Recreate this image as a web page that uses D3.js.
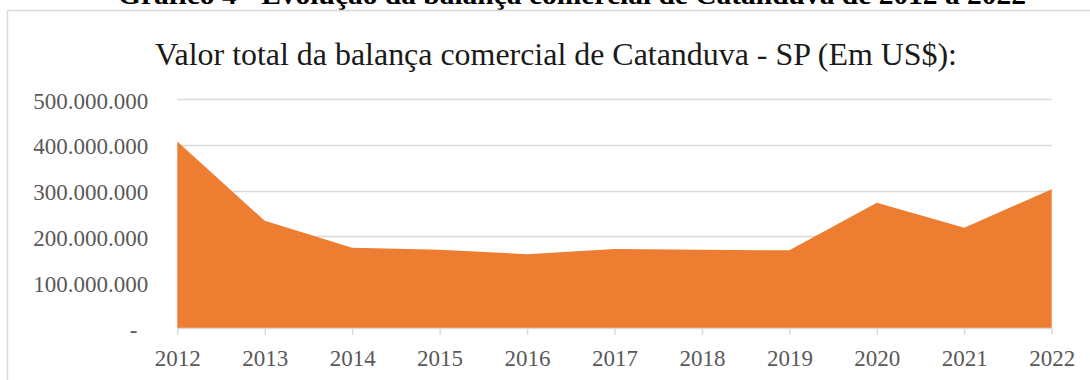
<!DOCTYPE html>
<html>
<head>
<meta charset="utf-8">
<script src="https://cdn.jsdelivr.net/npm/d3@7"></script>
<style>
  html, body { margin: 0; padding: 0; background: #fff; }
  svg { display: block; }
</style>
</head>
<body>
<svg id="chart" width="1090" height="380"></svg>
<script>
// Balança comercial de Catanduva - SP, valor total em US$
const years = ["2012", "2013", "2014", "2015", "2016", "2017", "2018", "2019", "2020", "2021", "2022"];
const totals = [407e6, 234e6, 175e6, 171e6, 161e6, 172.5e6, 171e6, 169.5e6, 273.5e6, 219e6, 303e6];
const yTicks = [0, 100e6, 200e6, 300e6, 400e6, 500e6];

const pageTitle = "Gráfico 4 - Evolução da balança comercial de Catanduva de 2012 a 2022";
const chartTitle = "Valor total da balança comercial de Catanduva - SP (Em US$):";

const serif = "\"Liberation Serif\", \"Times New Roman\", Times, serif";
const svg = d3.select("#chart");

const plot = { left: 177.3, right: 1051.7, top: 99, bottom: 328 };

const x = d3.scalePoint().domain(years).range([plot.left, plot.right]);
const y = d3.scaleLinear().domain([0, 500e6]).range([plot.bottom, plot.top]);

const ptBR = d3.formatLocale({ decimal: ",", thousands: ".", grouping: [3], currency: ["US$", ""] });
const fmt = ptBR.format(",.0f");

// caption above the chart frame (partly outside the visible area)
svg.append("text")
  .attr("x", 572).attr("y", 4)
  .attr("text-anchor", "middle")
  .style("font-family", serif)
  .attr("font-size", 27).attr("font-weight", "bold")
  .attr("fill", "#000")
  .attr("textLength", 908).attr("lengthAdjust", "spacingAndGlyphs")
  .text(pageTitle);

// chart frame
svg.append("rect")
  .attr("x", 7.5).attr("y", 10.5)
  .attr("width", 1200).attr("height", 500)
  .attr("fill", "none").attr("stroke", "#d9d9d9").attr("stroke-width", 1.5);

// chart title
svg.append("text")
  .attr("x", 556).attr("y", 65)
  .attr("text-anchor", "middle")
  .style("font-family", serif)
  .attr("font-size", 31)
  .attr("fill", "#1a1a1a")
  .attr("textLength", 802).attr("lengthAdjust", "spacingAndGlyphs")
  .text(chartTitle);

// gridlines
svg.append("g")
  .selectAll("line")
  .data(yTicks.filter(d => d > 0))
  .join("line")
  .attr("x1", plot.left).attr("x2", plot.right)
  .attr("y1", d => Math.round(y(d)) + 0.5).attr("y2", d => Math.round(y(d)) + 0.5)
  .attr("stroke", "#d9d9d9").attr("stroke-width", 1.5);

// area
const area = d3.area()
  .x((d, i) => x(years[i]))
  .y0(y(0))
  .y1(d => y(d));

svg.append("path")
  .datum(totals)
  .attr("d", area)
  .attr("fill", "#ED7D31");

// x axis
const xAxis = d3.axisBottom(x).tickSize(6).tickPadding(12);
const gx = svg.append("g")
  .attr("transform", `translate(0,${plot.bottom + 0.5})`)
  .call(xAxis);
gx.select(".domain").attr("stroke", "#d9d9d9").attr("stroke-width", 1.5)
  .attr("d", `M${plot.left},0H${plot.right}`);
gx.selectAll(".tick line").attr("stroke", "#d9d9d9").attr("stroke-width", 1.5);
gx.selectAll(".tick text")
  .style("font-family", serif)
  .attr("font-size", 23)
  .attr("fill", "#595959")
  .attr("dy", null)
  .attr("y", 37);

// y axis labels
const yAxis = d3.axisLeft(y).tickValues(yTicks).tickSize(0).tickPadding(29)
  .tickFormat(d => d === 0 ? "-" : fmt(d));
const gy = svg.append("g")
  .attr("transform", `translate(${plot.left},0)`)
  .call(yAxis);
gy.select(".domain").remove();
gy.selectAll(".tick text")
  .style("font-family", serif)
  .attr("font-size", 23)
  .attr("fill", "#595959")
  .attr("dy", null)
  .attr("y", 9)
  .attr("x", d => d === 0 ? -40 : -29);
</script>
</body>
</html>
